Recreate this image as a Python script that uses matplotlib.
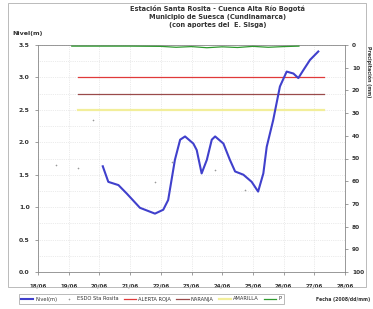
import matplotlib

matplotlib.use("Agg")
import matplotlib.pyplot as plt
from matplotlib.patches import Rectangle

# nivel (m) vs day of June 2008
nivel_dia = [20.11, 20.29, 20.62, 20.89, 21.32, 21.81, 22.08, 22.24, 22.46, 22.63, 22.79,
             23.06, 23.17, 23.33, 23.50, 23.66, 23.77, 24.04, 24.25, 24.42, 24.69, 24.96,
             25.17, 25.34, 25.45, 25.66, 25.88, 26.10, 26.32, 26.48, 26.64, 26.86, 27.13]
nivel_m = [1.63, 1.39, 1.34, 1.21, 0.99, 0.90, 0.96, 1.11, 1.73, 2.04, 2.09,
           1.98, 1.88, 1.52, 1.73, 2.04, 2.09, 1.98, 1.73, 1.55, 1.50, 1.39,
           1.24, 1.52, 1.93, 2.34, 2.86, 3.09, 3.06, 2.99, 3.11, 3.27, 3.40]

esdo_dia = [18.6, 19.3, 19.8, 21.8, 22.35, 23.77, 24.74]
esdo_m = [1.65, 1.60, 2.35, 1.39, 1.69, 1.57, 1.26]

precip_dia = [19.1, 20.0, 21.0, 22.0, 22.5, 23.0, 23.5, 24.0, 24.5, 25.0, 25.5, 26.0, 26.5]
precip_mm = [0.5, 0.5, 0.5, 0.6, 1.0, 0.7, 1.2, 0.8, 1.1, 0.6, 1.0, 0.7, 0.5]

alerta_dia = [19.3, 27.3]
roja = 3.0
naranja = 2.75
amarilla = 2.5

dias = list(range(18, 29))
dia_labels = [f"{d}/06" for d in dias]
y_ticks = [0.0, 0.5, 1.0, 1.5, 2.0, 2.5, 3.0, 3.5]
p_ticks = list(range(0, 101, 10))

TXT = "#333333"
fig = plt.figure(figsize=(3.73, 3.09), dpi=100)
fig.patches.append(Rectangle((8 / 373, 1 - 287 / 309), 358 / 373, 284 / 309,
                             transform=fig.transFigure, fill=False, ec="#b0b0b0", lw=0.6))

ax = fig.add_axes([38 / 373, 1 - 272 / 309, 307 / 373, 227 / 309])
ax.set_xlim(18, 28)
ax.set_ylim(0, 3.5)
ax.set_xticks(dias)
ax.set_xticklabels(dia_labels, fontsize=4.0, weight="bold")
ax.set_yticks(y_ticks)
ax.set_yticklabels([f"{v:.1f}" for v in y_ticks], fontsize=4.4, weight="bold")
ax.set_yticks([v + 0.25 for v in y_ticks[:-1]], minor=True)
ax.grid(True, which="both", color="#d8d8d8", lw=0.5, ls=":")
ax.tick_params(axis="y", length=2, width=0.5, pad=4, colors="#777777")
ax.tick_params(axis="x", length=2, width=0.5, pad=6, colors="#777777")
ax.tick_params(which="minor", length=0)
for s in ax.spines.values():
    s.set_color("#888888")
    s.set_linewidth(0.6)

h_roja, = ax.plot(alerta_dia, [roja, roja], color="#e03a3a", lw=0.9, label="ALERTA ROJA")
h_nar, = ax.plot(alerta_dia, [naranja, naranja], color="#9a4a4a", lw=0.9, label="NARANJA")
h_ama, = ax.plot(alerta_dia, [amarilla, amarilla], color="#f2ee9a", lw=1.6, label="AMARILLA")
h_esdo, = ax.plot(esdo_dia, esdo_m, ls="none", marker="+", ms=2, mew=0.4,
                  color="#999999", label="ESDO Sta Rosita")
h_niv, = ax.plot(nivel_dia, nivel_m, color="#4040cc", lw=1.5, label="Nivel(m)")

ax2 = ax.twinx()
ax2.set_ylim(100, 0)
ax2.set_yticks(p_ticks)
ax2.set_yticklabels([str(v) for v in p_ticks], fontsize=4.2, weight="bold")
ax2.tick_params(length=2, width=0.5, pad=3, colors="#777777")
for s in ax2.spines.values():
    s.set_visible(False)
h_p, = ax2.plot(precip_dia, precip_mm, color="#2f9a2f", lw=0.9, label="P")

for lab in ax.get_xticklabels() + ax.get_yticklabels() + ax2.get_yticklabels():
    lab.set_color(TXT)

tx = 218 / 373
fig.text(tx, 1 - 8 / 309, "Estación Santa Rosita - Cuenca Alta Río Bogotá",
         ha="center", va="center", fontsize=4.8, weight="bold", color=TXT)
fig.text(tx, 1 - 17 / 309, "Municipio de Suesca (Cundinamarca)",
         ha="center", va="center", fontsize=4.8, weight="bold", color=TXT)
fig.text(tx, 1 - 25 / 309, "(con aportes del  E. Sisga)",
         ha="center", va="center", fontsize=4.8, weight="bold", color=TXT)
fig.text(12 / 373, 1 - 33 / 309, "Nivel(m)", ha="left", va="center",
         fontsize=4.6, weight="bold", color=TXT)
fig.text(369 / 373, 1 - 72 / 309, "Precipitación (mm)", ha="center", va="center",
         rotation=270, fontsize=3.4, weight="bold", color=TXT)
fig.text(316 / 373, 1 - 299 / 309, "Fecha (2008/dd/mm)", ha="left", va="center",
         fontsize=3.3, weight="bold", color=TXT)

fig.legend(handles=[h_niv, h_esdo, h_roja, h_nar, h_ama, h_p], loc="center left",
           bbox_to_anchor=(16 / 373, 1 - 299 / 309), ncol=6, fontsize=3.7,
           frameon=True, fancybox=False, edgecolor="#888888", handlelength=2.4,
           handletextpad=0.4, columnspacing=1.0, borderpad=0.5)
for t in fig.legends[0].get_texts():
    t.set_color(TXT)
fig.legends[0].get_frame().set_linewidth(0.5)

fig.savefig("out.png", dpi=100)
